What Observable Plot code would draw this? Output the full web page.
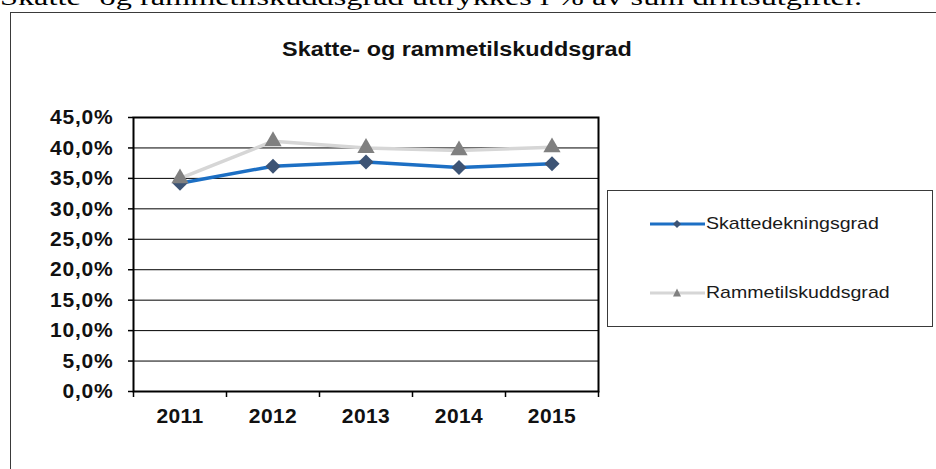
<!DOCTYPE html>
<html><head><meta charset="utf-8">
<script src="https://cdn.jsdelivr.net/npm/d3@7"></script>
<script src="https://cdn.jsdelivr.net/npm/@observablehq/plot@0.6"></script>
<style>
html,body{margin:0;padding:0;background:#fff;width:936px;height:469px;overflow:hidden;position:relative;font-family:"Liberation Sans",Arial,sans-serif;}
#intro{position:absolute;left:0;top:-14.6px;font-family:"Liberation Serif","Times New Roman",serif;font-size:24px;line-height:24px;white-space:nowrap;transform-origin:0 0;color:#000;}
#box{position:absolute;left:10px;top:11.5px;width:1000px;height:600px;border:1.5px solid #3a3a3a;box-sizing:border-box;}
#title{position:absolute;left:457px;top:39px;font-weight:bold;font-size:20px;line-height:20px;white-space:nowrap;transform:translateX(-50%) scaleX(1.17);color:#111;}
#chart{position:absolute;left:0;top:0;}
#chart g[aria-label="y-axis tick label"] text{letter-spacing:0.8px;}
#chart g[aria-label="x-axis tick label"] text{letter-spacing:0.4px;}
#legend{position:absolute;left:606.5px;top:189.5px;width:326px;height:137px;border:1.2px solid #3a3a3a;box-sizing:border-box;background:#fff;}
.item{position:absolute;left:42px;height:20px;display:flex;align-items:center;}
.item svg{display:block;}
.item span{font-size:17px;color:#1a1a1a;display:inline-block;transform:scaleX(1.15);transform-origin:0 50%;white-space:nowrap;margin-left:1px;}
</style></head>
<body>
<div id="intro">Skatte- og rammetilskuddsgrad uttrykkes i % av sum driftsutgifter.</div>
<div id="box"></div>
<div id="chart"></div>
<div id="title">Skatte- og rammetilskuddsgrad</div>
<div id="legend"></div>
<script>
const years = [2011, 2012, 2013, 2014, 2015];
const skatte = [34.2, 37.0, 37.7, 36.8, 37.4];
const ramme = [35.0, 41.1, 40.0, 39.6, 40.1];
const yTicks = [0, 5, 10, 15, 20, 25, 30, 35, 40, 45];
const xBounds = [2010.5, 2011.5, 2012.5, 2013.5, 2014.5, 2015.5];
const seriesNames = ["Skattedekningsgrad", "Rammetilskuddsgrad"];
const lineColors = ["#1c6fc4", "#d6d6d6"];
const markerColors = ["#3d5475", "#808080"];

const rows = years.map((y, i) => ({year: y, skatte: skatte[i], ramme: ramme[i]}));
const fmt = d => d.toFixed(1).replace(".", ",") + "%";

const chart = Plot.plot({
  width: 936, height: 469,
  marginLeft: 133, marginRight: 338, marginTop: 117, marginBottom: 78,
  style: {background: "transparent", color: "#000", fontFamily: "'Liberation Sans', Arial, sans-serif", overflow: "visible"},
  x: {type: "linear", domain: [2010.5, 2015.5]},
  y: {domain: [0, 45]},
  marks: [
    Plot.gridY(yTicks, {stroke: "#000", strokeOpacity: 1, strokeWidth: 1}),
    Plot.axisY(yTicks, {tickSize: 5, tickPadding: 15, strokeWidth: 1.5, tickFormat: fmt, fontSize: 21, fontWeight: "bold", fill: "#111", label: null}),
    Plot.axisX(xBounds, {tickSize: 6, strokeWidth: 1.5, tickFormat: () => "", label: null}),
    Plot.axisX(years, {tickSize: 0, tickPadding: 17, tickFormat: d => String(d), fontSize: 21, fontWeight: "bold", fill: "#111", label: null}),
    Plot.frame({stroke: "#000", strokeWidth: 2}),
    Plot.lineY(rows, {x: "year", y: "skatte", stroke: lineColors[0], strokeWidth: 3.5}),
    Plot.dot(rows, {x: "year", y: "skatte", symbol: "diamond2", r: 6.8, fill: markerColors[0], stroke: "none"}),
    Plot.lineY(rows, {x: "year", y: "ramme", stroke: lineColors[1], strokeWidth: 3.5}),
    Plot.dot(rows, {x: "year", y: "ramme", symbol: "triangle", r: 6.4, fill: markerColors[1], stroke: "none"})
  ]
});
document.getElementById("chart").appendChild(chart);

// legend
const legend = document.getElementById("legend");
const tops = [23.5, 92.5];
seriesNames.forEach((name, i) => {
  const item = document.createElement("div");
  item.className = "item";
  item.style.top = tops[i] + "px";
  const marker = i === 0
    ? `<path d="M27,3 L31,7 L27,11 L23,7 Z" fill="${markerColors[0]}"/>`
    : `<path d="M27,2.5 L31,10.5 L23,10.5 Z" fill="${markerColors[1]}"/>`;
  item.innerHTML = `<svg width="55" height="14"><line x1="0" x2="55" y1="7" y2="7" stroke="${lineColors[i]}" stroke-width="3"/>${marker}</svg><span>${name}</span>`;
  legend.appendChild(item);
});

// fit intro text to the reference width
const intro = document.getElementById("intro");
const w = intro.getBoundingClientRect().width;
intro.style.transform = `scaleX(${862 / w})`;
</script>
</body></html>
